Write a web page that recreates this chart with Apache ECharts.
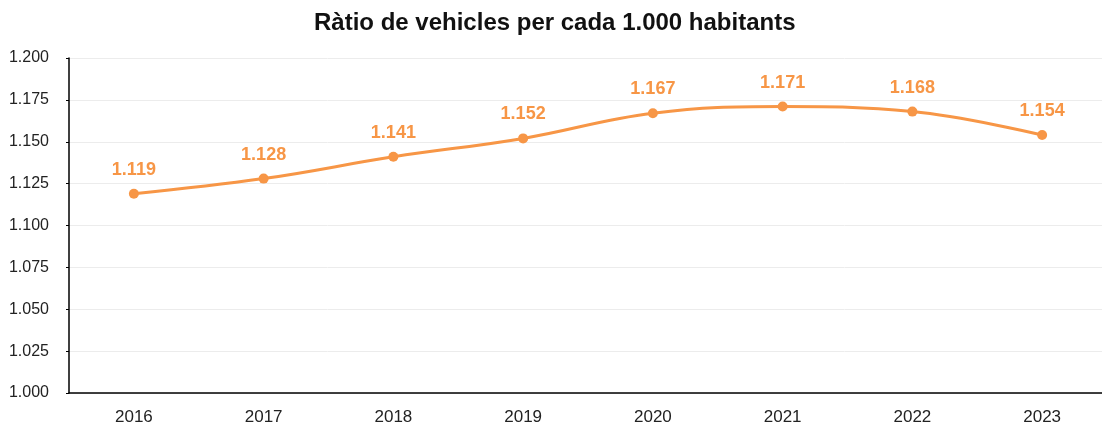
<!DOCTYPE html>
<html>
<head>
<meta charset="utf-8">
<script src="https://cdn.jsdelivr.net/npm/echarts@6/dist/echarts.min.js"></script>
<style>
  html, body { margin: 0; padding: 0; background: #fff; }
  #main { width: 1102px; height: 425px; }
</style>
</head>
<body>
<div id="main"></div>
<script>
// dades
var anys = ['2016', '2017', '2018', '2019', '2020', '2021', '2022', '2023'];
var ratio = [1119, 1128, 1141, 1152, 1167, 1171, 1168, 1154];
var yMin = 1000, yMax = 1200, yPas = 25;

// separador de milers amb punt (format català)
function milers(v) {
    return String(v).replace(/\B(?=(\d{3})+(?!\d))/g, '.');
}

var chart = echarts.init(document.getElementById('main'));

var option = {
    animation: false,
    title: {
        text: 'Ràtio de vehicles per cada 1.000 habitants',
        left: 309,
        top: 6,
        textStyle: {
            fontFamily: 'Liberation Sans',
            fontWeight: 'bold',
            fontSize: 24,
            color: '#111'
        }
    },
    grid: {
        left: 69,
        width: 1038,
        top: 58,
        bottom: 32,
        outerBoundsMode: 'none'
    },
    xAxis: {
        type: 'category',
        data: anys,
        axisLine: { lineStyle: { color: '#000', width: 1.5 } },
        axisTick: { alignWithLabel: true, length: 4, lineStyle: { color: '#000' } },
        axisLabel: {
            color: '#222',
            fontFamily: 'Liberation Sans',
            fontSize: 17,
            margin: 16
        }
    },
    yAxis: {
        type: 'value',
        min: yMin,
        max: yMax,
        interval: yPas,
        axisLine: { show: true, lineStyle: { color: '#000', width: 1.5 } },
        axisTick: { show: true, length: 3, lineStyle: { color: '#000' } },
        splitLine: { lineStyle: { color: '#ececec', width: 1 } },
        axisLabel: {
            color: '#222',
            fontFamily: 'Liberation Sans',
            fontSize: 16,
            margin: 20,
            formatter: milers
        }
    },
    series: [{
        type: 'line',
        data: ratio,
        smooth: 0.4,
        symbol: 'circle',
        symbolSize: 10,
        itemStyle: { color: '#F79646' },
        lineStyle: { color: '#F79646', width: 3 },
        label: {
            show: true,
            position: 'top',
            distance: 10,
            color: '#F79646',
            fontFamily: 'Liberation Sans',
            fontWeight: 'bold',
            fontSize: 18,
            formatter: function (p) { return milers(p.value); }
        }
    }]
};

chart.setOption(option);
</script>
</body>
</html>
